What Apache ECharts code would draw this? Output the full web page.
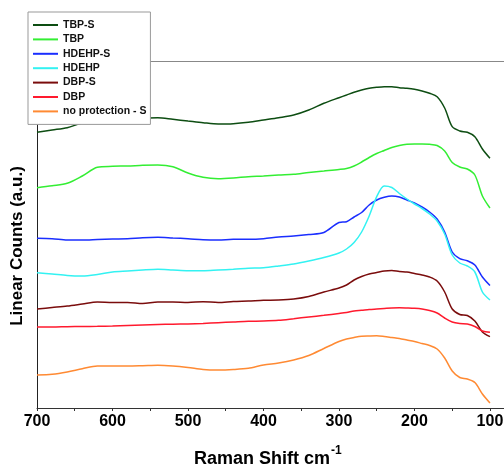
<!DOCTYPE html>
<html>
<head>
<meta charset="utf-8">
<script src="https://cdn.jsdelivr.net/npm/echarts@6/dist/echarts.min.js"></script>
<style>
html,body{margin:0;padding:0;background:#fff;}
#chart{width:504px;height:467px;}
</style>
</head>
<body>
<div id="chart"></div>
<script>
// Raman shift (cm-1)
var shifts = [700,680,660,640,620,600,580,560,540,520,500,480,460,440,420,400,380,360,340,320,300,
              290,280,270,260,250,240,230,220,210,200,190,180,170,160,150,140,130,120,110,100];
var seriesNames = ['TBP-S','TBP','HDEHP-S','HDEHP','DBP-S','DBP','no protection - S'];
var tbpS = [275.7,278,280.3,285,287,288.5,289.5,290,290.3,288.7,287,285.3,284,284.3,285.7,288,290.3,293,298,304.7,310.3,
            313,315.7,318,319.7,320.7,321.3,321.3,320.3,319.7,318.7,317,314.7,311.3,300,281.3,277,275.7,271.3,259,249.7];
var tbp = [220.3,222.3,224.7,232,240.7,241.7,242,242.7,243,241.3,235,230.7,229.3,230,231.3,232,233,233.7,235.5,237,238.5,
           239.5,242,246,250.5,254.5,257.5,260.5,262.5,263.7,264,264,263.7,262.5,257,245.5,241,239,233,212,200];
var hdehpS = [169.7,169.3,168,168,168.5,169,169.3,170.3,170.7,170,169.3,168.3,168,168.7,168.7,169.3,171,172,173.5,175.5,185.5,
              186.3,191,195.5,203,208,210.7,212,211,208,205,201,196,189,176,156,149.3,147.3,143,131,122.5];
var hdehp = [135.3,134,132.5,132,133.5,136,137,138,138.7,138,137.3,137.3,138,138.7,139.7,140.3,142,144,147,150.5,155,
             159,165.5,176,192,211.3,222,220.5,214.5,209,204,199.5,194,187,174,153,145,142,136,116,108];
var dbpS = [99,100.5,102,104,106,105.5,105.5,104.5,106,106,105.5,106.3,105.5,106.5,107,107.7,108,109,111.5,116,120,
            123,128,131.5,134,135.5,137,137.5,136.5,136,134.5,133,131,127,116,99,93.5,92.5,87,76,71.3];
var dbp = [81,81,81.3,81.5,81.7,82,82.5,83,83.5,83.8,84,84.5,85.3,86,86.7,87,87.7,89.3,91,92.7,94.5,
           95.5,97,97.7,98.5,99,99.5,100,100.2,100,99.7,99,97.5,95,90,86,84.5,84,81.5,77,75.7];
var noProt = [33,33.7,36,39.3,42,42,42,42.3,42.7,42,40.5,38.5,38,38.5,39.7,43,45,48,52.5,59.5,66.5,
              69,70.5,71.7,72,72.2,71.5,70.5,69.5,68,66.5,64.5,62.5,59,50,37,30.5,29,25.5,14,5];
var tickLabels = [700,600,500,400,300,200,100];
var tickMarks = [700,650,600,550,500,450,400,350,300,250,200,150,100];

var colors = ['#0d4d12','#33ee33','#1a2eff','#33f2f2','#7a0c0c','#ff1a2e','#ff8a33'];
var allValues = [tbpS,tbp,hdehpS,hdehp,dbpS,dbp,noProt];

function pairs(vals){
  return shifts.map(function(s,i){return [s, vals[i]];});
}

var chart = echarts.init(document.getElementById('chart'), null, {renderer:'canvas'});
var font = 'Liberation Sans';
var option = {
  animation:false,
  backgroundColor:'#fff',
  color: colors,
  grid:{left:37, right:0, top:61, bottom:59, containLabel:false, outerBoundsMode:'none'},
  xAxis:{
    type:'value', inverse:true, min:81.4, max:700,
    axisLine:{show:true, onZero:false, lineStyle:{color:'#333', width:1}},
    axisTick:{show:true, length:3, inside:false, customValues:tickMarks, lineStyle:{color:'#333'}},
    axisLabel:{show:true, customValues:tickLabels, margin:6, fontFamily:font, fontWeight:'bold', fontSize:16, color:'#000', hideOverlap:false},
    splitLine:{show:false}
  },
  yAxis:{
    type:'value', min:0, max:347,
    axisLine:{show:true, lineStyle:{color:'#222', width:1}},
    axisTick:{show:false}, axisLabel:{show:false}, splitLine:{show:false}
  },
  legend:{
    orient:'vertical', left:28, top:12,
    backgroundColor:'#fff', borderColor:'#999', borderWidth:1, borderRadius:0,
    padding:[7,4,7,5], itemWidth:25, itemHeight:2, itemGap:2.4, z:10,
    icon:'rect',
    textStyle:{fontFamily:font, fontWeight:'bold', fontSize:10.5, lineHeight:12, color:'#111'},
    data:seriesNames
  },
  graphic:[
    {type:'line', z:1, shape:{x1:37, y1:61.5, x2:504, y2:61.5}, style:{stroke:'#888', lineWidth:1}},
    {type:'text', x:330, y:459, style:{text:'Raman Shift cm', font:'bold 18px "Liberation Sans"', fill:'#000', align:'right', verticalAlign:'middle'}},
    {type:'text', x:331, y:450.5, style:{text:'-1', font:'bold 12px "Liberation Sans"', fill:'#000', align:'left', verticalAlign:'middle'}},
    {type:'text', x:17.5, y:246, rotation:Math.PI/2, style:{text:'Linear Counts (a.u.)', font:'bold 17px "Liberation Sans"', fill:'#000', align:'center', verticalAlign:'middle'}}
  ],
  series: seriesNames.map(function(n,i){
    return {name:n, type:'line', data:pairs(allValues[i]), symbol:'none', smooth:0.3,
            lineStyle:{width:1.5, color:colors[i]}, itemStyle:{color:colors[i]}};
  })
};
chart.setOption(option);
</script>
</body>
</html>
